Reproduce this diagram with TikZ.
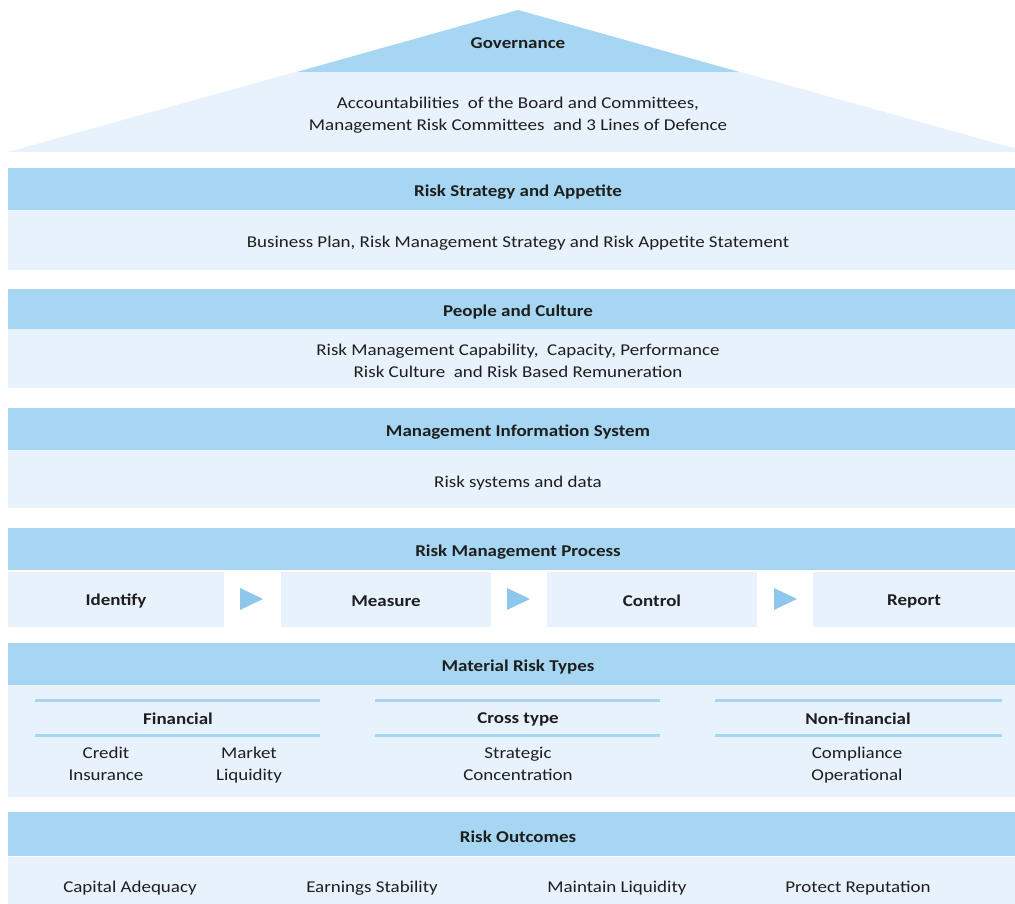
\documentclass[tikz,border=0pt]{standalone}
\usepackage{fontspec}
\setmainfont{Carlito}[FakeStretch=1.15]
\definecolor{hdr}{HTML}{A7D6F2}
\definecolor{bdy}{HTML}{E7F2FC}
\definecolor{tri}{HTML}{8DC8EC}
\definecolor{txt}{HTML}{1E1E1E}
\newcommand{\bodyfont}{\fontsize{16.5}{22}\selectfont}
\newcommand{\lstr}{\rule[-2pt]{0pt}{18pt}}
\tikzset{
  band/.style={draw=none, inner sep=0pt, minimum width=1007pt},
  hdrbox/.style={band, fill=hdr},
  bodybox/.style={band, fill=bdy},
  procbox/.style={draw=none, fill=bdy, inner sep=0pt, minimum height=55pt, text=txt, font=\bodyfont\bfseries, execute at begin node=\lstr},
  lbl/.style={inner sep=0pt, align=center, text=txt, font=\bodyfont, execute at begin node=\lstr},
  blbl/.style={lbl, font=\bodyfont\bfseries},
  arrowtri/.style={fill=tri, draw=none},
  rule/.style={draw=hdr, line width=3pt}
}
\begin{document}
\begin{tikzpicture}[x=1pt,y=-1pt]
\useasboundingbox (0,0) rectangle (1015,904);
% roof
\fill[bdy] (8,152) -- (518,10) -- (1028,152) -- cycle;
\fill[hdr] (518,10) -- (297,72) -- (739,72) -- cycle;
\node[blbl] (gov) at (518,42) {Governance};
\node[lbl] (govtxt) at (518,115) {Accountabilities \ of the Board and Committees,\\Management Risk Committees \ and 3 Lines of Defence\lstr};
% risk strategy
\node[hdrbox, minimum height=42pt] (rsah) at (511.5,189) {};
\node[bodybox, minimum height=60pt] (rsab) at (511.5,240) {};
\node[blbl] (rsat) at (518,190) {Risk Strategy and Appetite};
\node[lbl] (rsabt) at (518,241) {Business Plan, Risk Management Strategy and Risk Appetite Statement};
% people
\node[hdrbox, minimum height=40pt] (pch) at (511.5,309) {};
\node[bodybox, minimum height=59pt] (pcb) at (511.5,358.5) {};
\node[blbl] (pct) at (518,310) {People and Culture};
\node[lbl] (pcbt) at (518,362) {Risk Management Capability, \ Capacity, Performance\\Risk Culture \ and Risk Based Remuneration\lstr};
% MIS
\node[hdrbox, minimum height=42pt] (mish) at (511.5,429) {};
\node[bodybox, minimum height=58pt] (misb) at (511.5,479) {};
\node[blbl] (mist) at (518,430) {Management Information System};
\node[lbl] (misbt) at (518,481) {Risk systems and data};
% RMP
\node[hdrbox, minimum height=42pt] (rmph) at (511.5,549) {};
\node[blbl] (rmpt) at (518,550) {Risk Management Process};
\node[procbox, minimum width=216pt] (idf) at (116,599) {Identify};
\node[procbox, minimum width=210pt] (mea) at (386,599) {Measure};
\node[procbox, minimum width=210pt] (ctl) at (652,599) {Control};
\node[procbox, minimum width=202pt] (rep) at (914,599) {Report};
\fill[arrowtri] (240,588) -- (263,599) -- (240,610) -- cycle;
\fill[arrowtri] (507,588) -- (530,599) -- (507,610) -- cycle;
\fill[arrowtri] (774,588) -- (797,599) -- (774,610) -- cycle;
% material risk types
\node[hdrbox, minimum height=42pt] (mrth) at (511.5,664) {};
\node[bodybox, minimum height=112pt] (mrtb) at (511.5,741) {};
\node[blbl] (mrtt) at (518,665) {Material Risk Types};
\draw[rule] (35,700) -- (320,700); \draw[rule] (35,735) -- (320,735);
\draw[rule] (375,700) -- (660,700); \draw[rule] (375,735) -- (660,735);
\draw[rule] (715,700) -- (1002,700); \draw[rule] (715,735) -- (1002,735);
\node[blbl] (fin) at (178,717) {Financial};
\node[blbl] (crs) at (518,717) {Cross type};
\node[blbl] (nfin) at (858,717) {Non-financial};
\node[lbl] (cred) at (106,765) {Credit\\Insurance\lstr};
\node[lbl] (mkt) at (249,765) {Market\\Liquidity\lstr};
\node[lbl] (strat) at (518,765) {Strategic\\Concentration\lstr};
\node[lbl] (comp) at (857,765) {Compliance\\Operational\lstr};
% outcomes
\node[hdrbox, minimum height=44pt] (roh) at (511.5,834) {};
\node[bodybox, minimum height=47pt] (rob) at (511.5,880.5) {};
\node[blbl] (rot) at (518,835) {Risk Outcomes};
\node[lbl] (cap) at (130,886) {Capital Adequacy};
\node[lbl] (earn) at (372,886) {Earnings Stability};
\node[lbl] (liq) at (617,886) {Maintain Liquidity};
\node[lbl] (rept) at (858,886) {Protect Reputation};
\end{tikzpicture}
\end{document}
